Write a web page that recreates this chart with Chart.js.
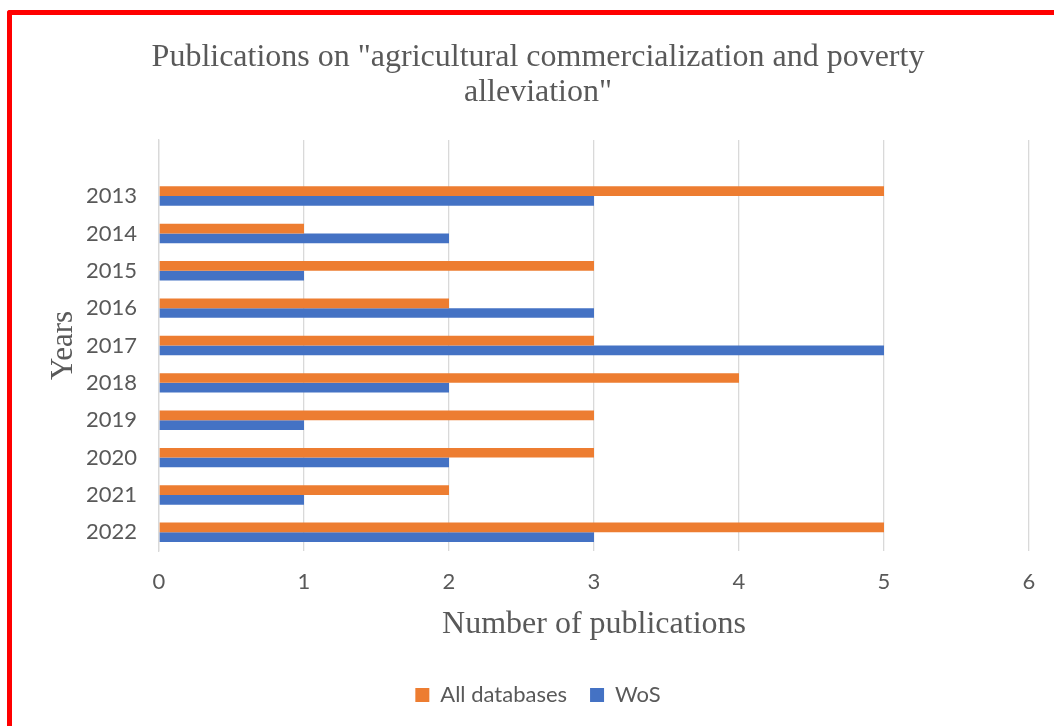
<!DOCTYPE html>
<html>
<head>
<meta charset="utf-8">
<script src="https://cdn.jsdelivr.net/npm/chart.js@4/dist/chart.umd.min.js"></script>
<style>
  html, body { margin: 0; padding: 0; background: #fff; overflow: hidden; }
  #wrap { position: relative; width: 1054px; height: 726px; }
  #frame {
    position: absolute; left: 7px; top: 10px; width: 1200px; height: 900px;
    border-left: 5px solid #ff0000; border-top: 5px solid #ff0000;
    border-top-left-radius: 3px; pointer-events: none;
  }
</style>
</head>
<body>
<div id="wrap">
  <canvas id="chart" width="1054" height="726"></canvas>
  <div id="frame"></div>
</div>
<script>
// データ (上から順)
const years = ['2013', '2014', '2015', '2016', '2017', '2018', '2019', '2020', '2021', '2022'];
const allDatabases = [5, 1, 3, 2, 3, 4, 3, 3, 2, 5];
const wos = [3, 2, 1, 3, 5, 2, 1, 2, 1, 3];
const xTicks = [0, 1, 2, 3, 4, 5, 6];

const textColor = '#595959';
const sansFont = 'Lato, "Liberation Sans", sans-serif';
const serifFont = '"Liberation Serif", "DejaVu Serif", serif';

// 元のExcelには先頭に空の行がある
const labels = [''].concat(years);

const ctx = document.getElementById('chart').getContext('2d');
new Chart(ctx, {
    type: 'bar',
    data: {
        labels: labels,
        datasets: [
            {
                label: 'All databases',
                data: [null].concat(allDatabases),
                backgroundColor: '#ED7D31'
            },
            {
                label: 'WoS',
                data: [null].concat(wos),
                backgroundColor: '#4472C4'
            }
        ]
    },
    options: {
        indexAxis: 'y',
        responsive: false,
        animation: false,
        layout: { padding: { left: 22, right: 0, top: 0, bottom: 10 } },
        datasets: {
            bar: { categoryPercentage: 0.52, barPercentage: 1 }
        },
        plugins: {
            title: {
                display: true,
                text: ['Publications on "agricultural commercialization and poverty', 'alleviation"'],
                color: textColor,
                font: { family: serifFont, size: 32, weight: 'normal', lineHeight: 1.094 },
                padding: { top: 40, bottom: 30 }
            },
            legend: {
                position: 'bottom',
                labels: {
                    color: textColor,
                    font: { family: sansFont, size: 22 },
                    boxWidth: 14,
                    boxHeight: 14,
                    padding: 23
                }
            },
            tooltip: { enabled: false }
        },
        scales: {
            x: {
                min: 0,
                max: 6,
                afterBuildTicks: (scale) => {
                    scale.ticks = xTicks.map(v => ({ value: v }));
                },
                afterFit: (scale) => { scale.height = 110; },
                grid: { color: '#D9D9D9', lineWidth: 1.3, drawTicks: false },
                border: { display: false },
                ticks: {
                    color: textColor,
                    font: { family: sansFont, size: 22 },
                    padding: 18
                },
                title: {
                    display: true,
                    text: 'Number of publications',
                    color: textColor,
                    font: { family: serifFont, size: 32, weight: 'normal' },
                    padding: { top: 0, bottom: 17 }
                }
            },
            y: {
                afterFit: (scale) => { scale.width = 137; },
                grid: { display: false, drawTicks: false },
                border: { display: true, color: '#D9D9D9', width: 1.3 },
                ticks: {
                    color: textColor,
                    font: { family: sansFont, size: 22 },
                    padding: 22
                },
                title: {
                    display: true,
                    text: 'Years',
                    color: textColor,
                    font: { family: serifFont, size: 31, weight: 'normal' },
                    padding: { top: 23, bottom: 0 }
                }
            },
            // 右余白用の空の軸
            spacer: {
                type: 'linear',
                position: 'right',
                afterFit: (scale) => { scale.width = 25; },
                grid: { display: false, drawTicks: false },
                border: { display: false },
                ticks: { display: false }
            }
        }
    }
});
</script>
</body>
</html>
